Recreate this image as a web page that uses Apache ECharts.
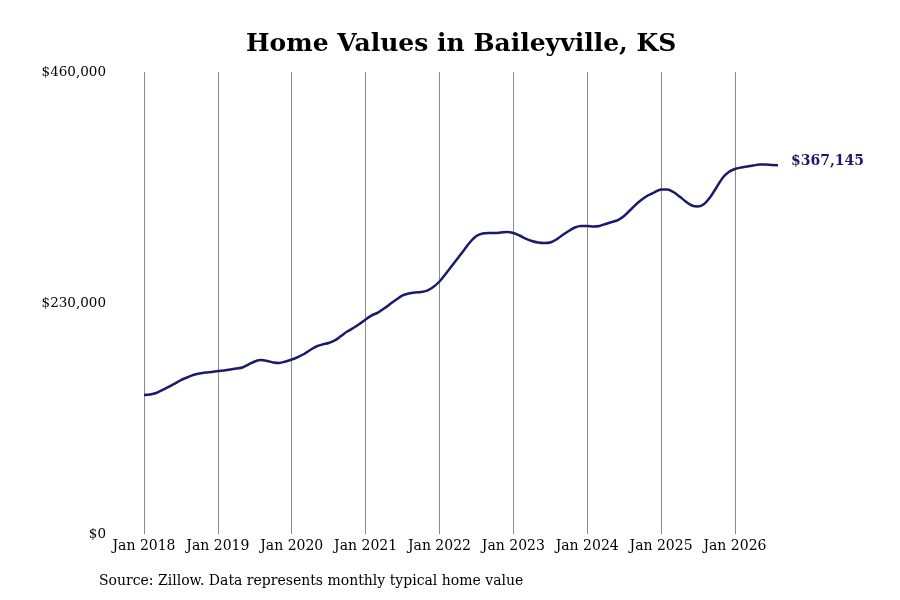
<!DOCTYPE html>
<html lang="en">
<head>
    <meta charset="UTF-8">
    <title>Home Values in Baileyville, KS</title>
    <script src="https://cdn.jsdelivr.net/npm/echarts@6.0.0/dist/echarts.min.js"></script>
    <style>
        html, body { margin: 0; padding: 0; background: #fff; }
        #chart { width: 900px; height: 600px; }
    </style>
</head>
<body>
    <div id="chart"></div>
    <script>
        // months Jan 2018 .. Aug 2026
        var monthNames = ['Jan', 'Feb', 'Mar', 'Apr', 'May', 'Jun', 'Jul', 'Aug', 'Sep', 'Oct', 'Nov', 'Dec'];
        var years = [2018, 2019, 2020, 2021, 2022, 2023, 2024, 2025, 2026];
        var lastMonthCount = 8; // data for 2026 stops at Aug

        var homeValues = [
            138400, 138900, 140400, 143400, 146400, 149800, 153300, 155800, 158300, 159800, 160800, 161300,
            162300, 162800, 163800, 164800, 165800, 168800, 171800, 173200, 172300, 170800, 170300, 171800,
            173700, 176200, 179200, 183200, 186700, 188700, 190200, 192700, 197100, 201600, 205100, 209100,
            213600, 217600, 220500, 224500, 229000, 233500, 237500, 239500, 240500, 241000, 242400, 245900,
            251400, 258900, 266800, 274800, 282800, 290700, 296700, 299200, 299700, 299700, 300200, 300700,
            299700, 297200, 294200, 291700, 290200, 289700, 290200, 293200, 297700, 301700, 305200, 306700,
            306700, 306200, 306700, 308700, 310600, 312600, 316600, 322600, 328600, 333500, 337500, 340500,
            343000, 343000, 340500, 336000, 331100, 327100, 326100, 328600, 335500, 345000, 354500, 360400,
            363400, 364900, 365900, 366900, 367900, 367900, 367400, 367145
        ];

        var yTicks = [0, 230000, 460000];

        var categories = [];
        years.forEach(function (y, i) {
            var n = (i === years.length - 1) ? lastMonthCount : 12;
            for (var m = 0; m < n; m++) {
                categories.push(monthNames[m] + ' ' + y);
            }
        });

        function isJan(index, value) {
            return categories[index].indexOf('Jan') === 0;
        }

        var serif = '"DejaVu Serif", "Liberation Serif", serif';
        var navy = '#1b1b6b';

        var myChart = echarts.init(document.getElementById('chart'));
        var option = {
            backgroundColor: '#fff',
            animation: false,
            title: {
                text: 'Home Values in Baileyville, KS',
                left: 241,
                top: 27,
                textStyle: { fontFamily: serif, fontSize: 25, fontWeight: 'bold', color: '#000' }
            },
            grid: { left: 144, right: 122, top: 72, bottom: 66, containLabel: false },
            xAxis: {
                type: 'category',
                data: categories,
                boundaryGap: false,
                axisLine: { show: false },
                axisTick: { show: false },
                axisLabel: {
                    interval: isJan,
                    margin: 5,
                    fontFamily: serif,
                    fontSize: 14,
                    color: '#000'
                },
                splitLine: {
                    show: true,
                    interval: isJan,
                    lineStyle: { color: '#8c8c8c', width: 1 }
                }
            },
            yAxis: {
                type: 'value',
                min: yTicks[0],
                max: yTicks[yTicks.length - 1],
                interval: yTicks[1] - yTicks[0],
                axisLine: { show: false },
                axisTick: { show: false },
                splitLine: { show: false },
                axisLabel: {
                    margin: 38,
                    fontFamily: serif,
                    fontSize: 13.5,
                    color: '#000',
                    formatter: function (v) { return '$' + v.toLocaleString('en-US'); }
                }
            },
            series: [{
                type: 'line',
                data: homeValues,
                smooth: 0.3,
                symbol: 'none',
                lineStyle: { color: navy, width: 2.5 },
                endLabel: {
                    show: true,
                    distance: 13,
                    offset: [0, -4],
                    fontFamily: serif,
                    fontSize: 14,
                    fontWeight: 'bold',
                    color: navy,
                    formatter: function (p) { return '$' + p.value.toLocaleString('en-US'); }
                }
            }],
            graphic: [{
                type: 'text',
                left: 99,
                top: 574,
                style: {
                    text: 'Source: Zillow. Data represents monthly typical home value',
                    fontFamily: serif,
                    fontSize: 14,
                    fill: '#000'
                }
            }]
        };
        myChart.setOption(option);
    </script>
</body>
</html>
